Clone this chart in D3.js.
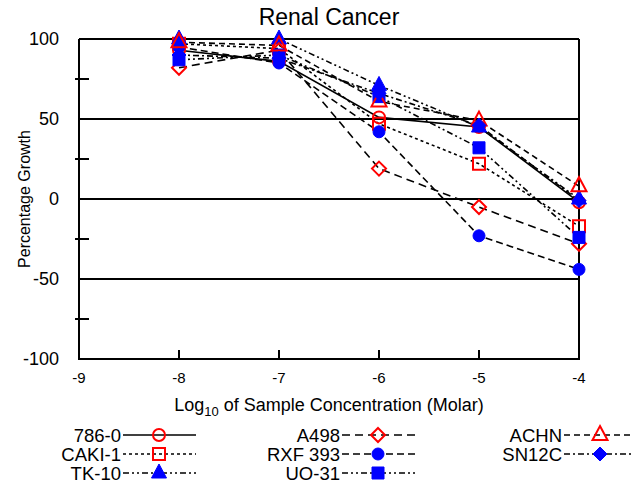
<!DOCTYPE html>
<html lang="en">
<head>
<meta charset="UTF-8">
<title>Renal Cancer</title>
<script src="https://d3js.org/d3.v7.min.js"></script>
<style>
    body { margin: 0; background: #fff; }
    text { font-family: "Liberation Sans", Arial, sans-serif; fill: #000; }
    .grid { stroke: #000; stroke-width: 1.8px; }
    .axis { stroke: #000; stroke-width: 2px; fill: none; }
    .series { fill: none; stroke: #000; stroke-width: 1.6px; }
</style>
</head>
<body>
<svg width="634" height="489"></svg>
<script>
    // data
    const concentrations = [-8, -7, -6, -5, -4];
    const cellLines = ["786-0", "CAKI-1", "TK-10", "A498", "RXF 393", "UO-31", "ACHN", "SN12C"];
    const growth = {
        "786-0":   [93, 86, 51, 45, -2],
        "CAKI-1":  [97, 94, 47, 22, -17],
        "TK-10":   [100, 100, 71, 45, 0],
        "A498":    [82, 93, 19, -5, -28],
        "RXF 393": [95, 85, 42, -23, -44],
        "UO-31":   [87, 90, 64, 32, -24],
        "ACHN":    [98, 96, 61, 49, 8],
        "SN12C":   [90, 88, 66, 46, -1]
    };
    const xTicks = [-9, -8, -7, -6, -5, -4];
    const yTicks = [100, 50, 0, -50, -100];
    const yMinor = [75, 25, -25, -75];

    // styles per line
    const style = {
        "786-0":   {shape: "circle",   color: "#ff0000", open: true,  dash: null},
        "CAKI-1":  {shape: "square",   color: "#ff0000", open: true,  dash: "3,3"},
        "TK-10":   {shape: "triangle", color: "#0000ff", open: false, dash: "6,3,2,3,2,3"},
        "A498":    {shape: "diamond",  color: "#ff0000", open: true,  dash: "8,5"},
        "RXF 393": {shape: "circle",   color: "#0000ff", open: false, dash: "7,4"},
        "UO-31":   {shape: "square",   color: "#0000ff", open: false, dash: "6,3,2,3,2,3"},
        "ACHN":    {shape: "triangle", color: "#ff0000", open: true,  dash: "6,4"},
        "SN12C":   {shape: "diamond",  color: "#0000ff", open: false, dash: "6,3,2,3"}
    };

    const svg = d3.select("svg");
    const margin = {left: 79, right: 55, top: 39, bottom: 130};
    const width = 634, height = 489;

    const x = d3.scaleLinear().domain([-9, -4]).range([margin.left, width - margin.right]);
    const y = d3.scaleLinear().domain([-100, 100]).range([height - margin.bottom, margin.top]);

    function markerPath(shape) {
        const p = d3.path();
        if (shape === "circle") {
            p.arc(0, 0, 6, 0, 2 * Math.PI);
        } else if (shape === "square") {
            p.rect(-6, -6, 12, 12);
        } else if (shape === "triangle") {
            p.moveTo(0, -9); p.lineTo(7.5, 5); p.lineTo(-7.5, 5); p.closePath();
        } else {
            p.moveTo(0, -7); p.lineTo(7, 0); p.lineTo(0, 7); p.lineTo(-7, 0); p.closePath();
        }
        return p.toString();
    }

    function drawMarker(g, name) {
        const s = style[name];
        g.append("path")
            .attr("d", markerPath(s.shape))
            .attr("fill", s.open ? "none" : s.color)
            .attr("stroke", s.color)
            .attr("stroke-width", s.open ? 2 : 1);
    }

    // title
    svg.append("text")
        .attr("x", 329).attr("y", 25)
        .attr("text-anchor", "middle")
        .style("font-size", "23px")
        .text("Renal Cancer");

    // horizontal grid lines
    svg.append("g").selectAll("line")
        .data(yTicks.filter(d => d > -100))
        .enter().append("line")
        .attr("class", "grid")
        .attr("x1", x(-9)).attr("x2", x(-4))
        .attr("y1", d => y(d)).attr("y2", d => y(d));

    // frame: left, bottom, right
    svg.append("path")
        .attr("class", "axis")
        .attr("d", `M${x(-9)},${y(100)}V${y(-100)}H${x(-4)}V${y(100)}`);

    // x ticks, pointing inward
    svg.append("g").selectAll("line")
        .data(xTicks.slice(1))
        .enter().append("line")
        .attr("class", "axis")
        .attr("x1", d => x(d)).attr("x2", d => x(d))
        .attr("y1", y(-100)).attr("y2", y(-100) - 9);

    // y minor ticks
    svg.append("g").selectAll("line")
        .data(yMinor)
        .enter().append("line")
        .attr("class", "axis")
        .attr("x1", x(-9) - 4).attr("x2", x(-9) + 10)
        .attr("y1", d => y(d)).attr("y2", d => y(d));

    // tick labels
    svg.append("g").selectAll("text")
        .data(xTicks)
        .enter().append("text")
        .attr("x", d => x(d)).attr("y", y(-100) + 24)
        .attr("text-anchor", "middle")
        .style("font-size", "15px")
        .text(d => d);

    svg.append("g").selectAll("text")
        .data(yTicks)
        .enter().append("text")
        .attr("x", x(-9) - 20).attr("y", d => y(d) + 6)
        .attr("text-anchor", "end")
        .style("font-size", "18px")
        .text(d => d);

    // axis titles
    const xl = svg.append("text")
        .attr("x", 329).attr("y", 411)
        .attr("text-anchor", "middle")
        .style("font-size", "18px");
    xl.append("tspan").text("Log");
    xl.append("tspan").attr("dy", 5).style("font-size", "13px").text("10");
    xl.append("tspan").attr("dy", -5).text(" of Sample Concentration (Molar)");

    svg.append("text")
        .attr("transform", `translate(30,${y(0)}) rotate(-90)`)
        .attr("text-anchor", "middle")
        .style("font-size", "16px")
        .text("Percentage Growth");

    // series lines
    const line = d3.line()
        .x((d, i) => x(concentrations[i]))
        .y(d => y(d));

    svg.append("g").selectAll("path")
        .data(cellLines)
        .enter().append("path")
        .attr("class", "series")
        .attr("d", d => line(growth[d]))
        .attr("stroke-dasharray", d => style[d].dash);

    // markers
    cellLines.forEach(name => {
        growth[name].forEach((v, i) => {
            const g = svg.append("g")
                .attr("transform", `translate(${x(concentrations[i])},${y(v)})`);
            drawMarker(g, name);
        });
    });

    // legend, three columns
    const colLabelX = [121, 340, 562];
    const rowY = [435, 454, 473];
    cellLines.forEach((name, i) => {
        const col = Math.floor(i / 3), row = i % 3;
        const lx = colLabelX[col], ly = rowY[row];
        const g = svg.append("g");
        g.append("text")
            .attr("x", lx).attr("y", ly + 6.5)
            .attr("text-anchor", "end")
            .style("font-size", "18.5px")
            .text(name);
        g.append("line")
            .attr("class", "series")
            .attr("x1", lx + 2).attr("x2", lx + 75)
            .attr("y1", ly).attr("y2", ly)
            .attr("stroke-dasharray", style[name].dash);
        const m = g.append("g").attr("transform", `translate(${lx + 38},${ly})`);
        drawMarker(m, name);
    });
</script>
</body>
</html>
